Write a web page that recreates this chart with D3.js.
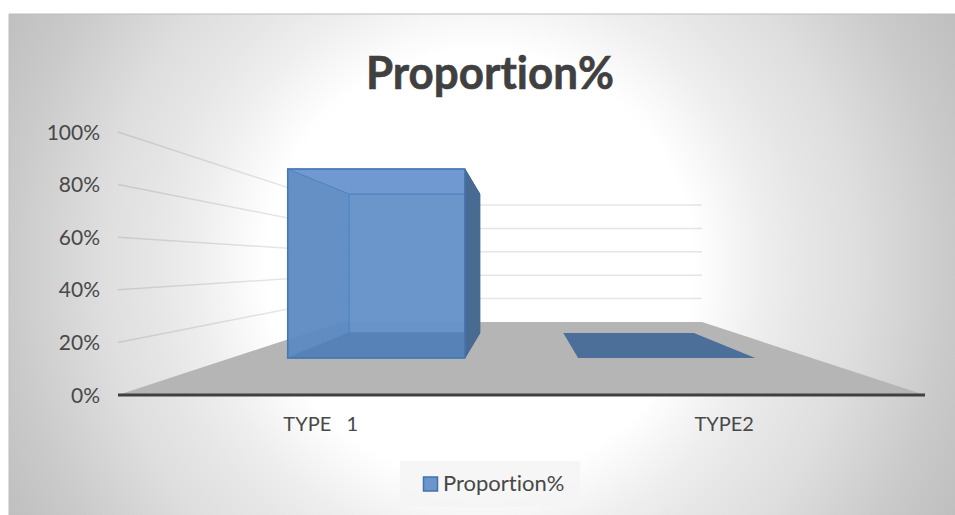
<!DOCTYPE html>
<html>
<head>
<meta charset="utf-8">
<script src="https://cdn.jsdelivr.net/npm/d3@7"></script>
<style>
  html, body { margin: 0; padding: 0; background: #fff; }
  svg { display: block; }
  text { font-family: Lato, "Open Sans", sans-serif; fill: #484848; font-variant-ligatures: none; }
</style>
</head>
<body>
<div id="chart"></div>
<script>
// Values behind the chart
const chartTitle = "Proportion%";
const seriesName = "Proportion%";
const categories = ["TYPE   1", "TYPE2"];
const proportions = [100, 0];
const tickValues = [0, 20, 40, 60, 80, 100];

const width = 955, height = 515;
const frame = { x: 9, y: 14 };

const svg = d3.select("#chart").append("svg")
  .attr("width", width).attr("height", height);

const defs = svg.append("defs");
const bgGrad = defs.append("radialGradient")
  .attr("id", "panelFill")
  .attr("gradientUnits", "userSpaceOnUse")
  .attr("cx", 480).attr("cy", 265).attr("r", 535);
[[0, "#ffffff"], [0.40, "#ffffff"], [0.47, "#f6f6f6"], [0.53, "#eeeeee"], [0.62, "#e5e5e5"],
 [0.70, "#dfdfdf"], [0.88, "#cacaca"], [1, "#bfbfbf"]]
  .forEach(([o, c]) => bgGrad.append("stop").attr("offset", o).attr("stop-color", c));

// Panel background, running off the right and bottom edges
svg.append("rect")
  .attr("x", frame.x).attr("y", frame.y)
  .attr("width", width - frame.x).attr("height", height - frame.y)
  .attr("fill", "url(#panelFill)");
svg.append("path")
  .attr("d", d3.line()([[frame.x, height], [frame.x, frame.y], [width, frame.y]]))
  .attr("fill", "none").attr("stroke", "#bdbdbd").attr("stroke-width", 1);

// Pseudo-3D projection: value axis at the front and back planes of the box
const yFront = d3.scaleLinear().domain([0, 100]).range([395, 132]);
const yBack = d3.scaleLinear().domain([0, 100]).range([322, 205]);
const leftEdge = d3.scaleLinear().domain([0, 1]).range([118, 341]);
const rightEdge = d3.scaleLinear().domain([0, 1]).range([925, 702]);

// Category position across the box, 0..1
const band = d3.scaleBand().domain(categories).range([0, 1])
  .paddingInner(0.39).paddingOuter(0.195);

// Depth of the bars inside the box, 0 = front, 1 = back
const barDepth = { front: 0.507, back: 0.849 };

function project(u, depth, value) {
  const xl = leftEdge(depth), xr = rightEdge(depth);
  const y = yFront(value) + (yBack(value) - yFront(value)) * depth;
  return [xl + (xr - xl) * u, y];
}
const poly = pts => d3.line()(pts) + "Z";

// Floor
svg.append("path")
  .attr("d", poly([project(0, 0, 0), project(1, 0, 0), project(1, 1, 0), project(0, 1, 0)]))
  .attr("fill", "#b5b5b5");

// Gridlines on the left and back walls
const grid = svg.append("g").attr("fill", "none")
  .attr("stroke", "#000").attr("stroke-opacity", 0.1).attr("stroke-width", 1.5);
tickValues.filter(v => v > 0).forEach(v => {
  grid.append("path").attr("d", d3.line()([project(0, 0, v), project(0, 1, v), project(1, 1, v)]));
});

// Bars: far faces first, the outer right side and the front pane last
const faces = svg.append("g");
categories.forEach((cat, i) => {
  const v = proportions[i];
  const u0 = band(cat), u1 = u0 + band.bandwidth();
  const { front: f, back: b } = barDepth;
  if (v === 0) {
    // Zero height: only the footprint remains
    faces.append("path")
      .attr("d", poly([project(u0, f, 0), project(u1, f, 0), project(u1, b, 0), project(u0, b, 0)]))
      .attr("fill", "#4b6f99");
    return;
  }
  const faceList = [
    { pts: [project(u0, b, 0), project(u1, b, 0), project(u1, b, v), project(u0, b, v)], fill: "#6390c8", op: 0.95, edge: "#4f81bd" },
    { pts: [project(u0, f, 0), project(u0, b, 0), project(u0, b, v), project(u0, f, v)], fill: "#5c89c1", op: 0.95, edge: "#4f81bd" },
    { pts: [project(u0, f, v), project(u1, f, v), project(u1, b, v), project(u0, b, v)], fill: "#6b96ce", op: 0.97, edge: "#4f81bd" },
    { pts: [project(u0, f, 0), project(u1, f, 0), project(u1, b, 0), project(u0, b, 0)], fill: "#527db4", op: 0.97, edge: "#4f81bd" },
    { pts: [project(u1, f, 0), project(u1, b, 0), project(u1, b, v), project(u1, f, v)], fill: "#496b92", op: 1, edge: "#496b92" }
  ];
  faceList.forEach(face => {
    faces.append("path").attr("d", poly(face.pts))
      .attr("fill", face.fill).attr("fill-opacity", face.op)
      .attr("stroke", face.edge).attr("stroke-width", 1);
  });
  // Front pane, see-through so the inner edges stay visible
  faces.append("path")
    .attr("d", poly([project(u0, f, 0), project(u1, f, 0), project(u1, f, v), project(u0, f, v)]))
    .attr("fill", "#6f9bd3").attr("fill-opacity", 0.1)
    .attr("stroke", "#4677b4").attr("stroke-width", 1.5);
});

// Front baseline
svg.append("line")
  .attr("x1", leftEdge(0)).attr("x2", rightEdge(0))
  .attr("y1", yFront(0)).attr("y2", yFront(0))
  .attr("stroke", "#404040").attr("stroke-width", 3);

// Value axis labels
svg.append("g").selectAll("text").data(tickValues).join("text")
  .attr("x", 100).attr("y", d => yFront(d)).attr("dy", "0.36em")
  .attr("text-anchor", "end").attr("font-size", 21)
  .text(d => d3.format("d")(d) + "%");

// Category labels
const frontX = u => project(u, 0, 0)[0];
svg.append("g").selectAll("text").data(categories).join("text")
  .attr("x", d => frontX(band(d) + band.bandwidth() / 2) + 1).attr("y", 431)
  .style("white-space", "pre")
  .attr("text-anchor", "middle").attr("font-size", 20)
  .text(d => d);

// Title, slightly emboldened with a thin outline
svg.append("text")
  .attr("x", 366).attr("y", 89)
  .attr("font-size", 46).attr("font-weight", 700)
  .attr("textLength", 248).attr("lengthAdjust", "spacingAndGlyphs")
  .style("fill", "#404040").attr("stroke", "#404040").attr("stroke-width", 0.6)
  .text(chartTitle);

// Legend
const legend = svg.append("g");
legend.append("rect").attr("x", 400).attr("y", 461).attr("width", 180).attr("height", 46)
  .attr("fill", "#f5f5f5").attr("fill-opacity", 0.85);
legend.append("rect").attr("x", 423.5).attr("y", 477).attr("width", 14).attr("height", 14)
  .attr("fill", "#6a96cc").attr("stroke", "#4472a8").attr("stroke-width", 1.5);
legend.append("text").attr("x", 443).attr("y", 491).attr("font-size", 22).text(seriesName);
</script>
</body>
</html>
